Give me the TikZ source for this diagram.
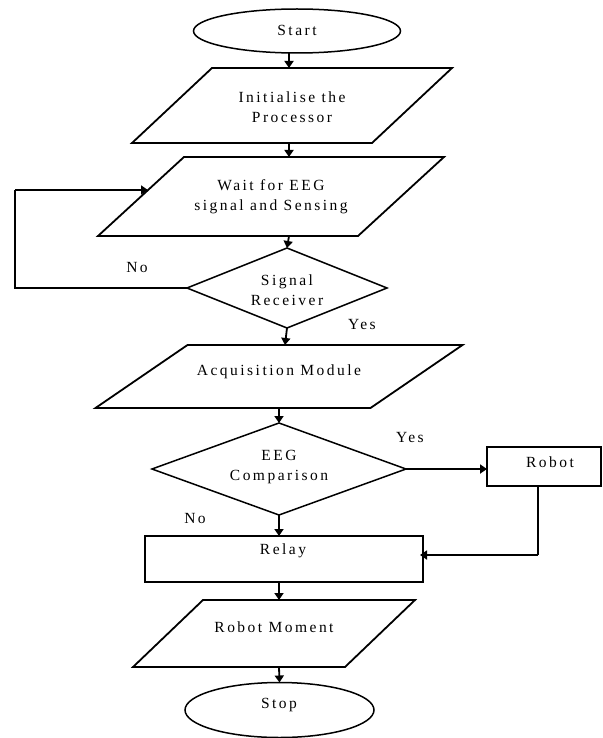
\documentclass[tikz,border=0pt]{standalone}
\usepackage{fontspec}
\setmainfont[LetterSpace=16]{Liberation Serif}
\usetikzlibrary{shapes.geometric,arrows.meta,calc}
\tikzset{
  x=1pt, y=-1pt,
  shp/.style={draw, line width=1.5pt, inner sep=0pt, outer sep=0pt},
  para/.style={inner sep=0pt, outer sep=0pt, rectangle},
  dia/.style={shp, diamond},
  oval/.style={shp, ellipse},
  box/.style={shp, rectangle, line width=1.8pt},
  txt/.style={font=\fontsize{15.5}{20}\selectfont, align=center, inner sep=0pt},
  arr/.style={line width=1.8pt, -{Triangle[length=7pt,width=9pt]}},
  ln/.style={line width=1.8pt},
  pline/.style={line width=1.8pt, line join=miter},
}
\newcommand{\drawpara}[2]{%
  \draw[pline] (#1.south west) -- ($(#1.south east)+(-#2,0)$) -- (#1.north east) -- ($(#1.north west)+(#2,0)$) -- cycle;}
\begin{document}
\begin{tikzpicture}
\fill[white] (0,0) rectangle (602,738);
\useasboundingbox (0,0) rectangle (602,738);
% shapes
\node[oval, minimum width=207pt, minimum height=44pt] (start) at (297,31) {};
\node[para, minimum width=320pt, minimum height=75pt] (p1) at (292,105.5) {};
\node[para, minimum width=346pt, minimum height=79pt] (p2) at (271,196.5) {};
\node[dia, minimum width=200pt, minimum height=80pt] (d1) at (287,288) {};
\node[para, minimum width=367pt, minimum height=63pt] (p3) at (279,376.5) {};
\node[dia, minimum width=254pt, minimum height=92pt] (d2) at (279,469) {};
\node[box, minimum width=114pt, minimum height=39pt] (robot) at (544,466.5) {};
\node[box, minimum width=278pt, minimum height=46pt] (relay) at (284,559) {};
\node[para, minimum width=282pt, minimum height=67pt] (p4) at (274,633.5) {};
\node[oval, minimum width=189pt, minimum height=55pt] (stop) at (279.5,710) {};
\drawpara{p1}{80}
\drawpara{p2}{86}
\drawpara{p3}{92}
\drawpara{p4}{70}
% texts
\node[txt] (tstart) at (297,30) {Start};
\node[txt] (tp1) at (292,107.5) {Initialise the\\Processor};
\node[txt] (tp2) at (271,197) {Wait for EEG\\signal and Sensing};
\node[txt] (td1) at (287,290) {Signal\\Receiver};
\node[txt] (tp3) at (279,372) {Acquisition Module};
\node[txt] (td2) at (279,467.5) {EEG\\Comparison};
\node[txt] (trobot) at (550,462) {Robot};
\node[txt] (trelay) at (283,551) {Relay};
\node[txt] (tp4) at (274,627) {Robot Moment};
\node[txt] (tstop) at (279,705) {Stop};
\node[txt] (no1) at (137,267) {No};
\node[txt] (yes1) at (362,324) {Yes};
\node[txt] (yes2) at (410,437) {Yes};
\node[txt] (no2) at (195,518) {No};
% columns
\coordinate (ca) at (289,0);
\coordinate (cb) at (285,0);
\coordinate (cc) at (279,0);
% connectors
\draw[arr] (start.south -| ca) -- (p1.north -| ca);
\draw[arr] (p1.south -| ca) -- (p2.north -| ca);
\draw[arr] (p2.south -| ca) -- (d1.north);
\draw[arr] (d1.south) -- (p3.north -| cb);
\draw[arr] (p3.south -| cc) -- (d2.north);
\draw[arr] (d2.south) -- (relay.north -| cc);
\draw[arr] (relay.south -| cc) -- (p4.north -| cc);
\draw[arr] (p4.south -| cc) -- (stop.north);
\coordinate (loopL) at (15,288);
\coordinate (loopT) at (15,190);
\coordinate (loopE) at (148,190);
\draw[ln] (d1.west) -- (loopL) -- (loopT);
\draw[arr] (loopT) -- (loopE);
\draw[arr] (d2.east) -- (d2.east -| robot.west);
\coordinate (rb) at (538,486);
\coordinate (rc) at (538,555);
\coordinate (re) at (420,555);
\draw[ln] (rb) -- (rc);
\draw[arr] (rc) -- (re);
\end{tikzpicture}
\end{document}
